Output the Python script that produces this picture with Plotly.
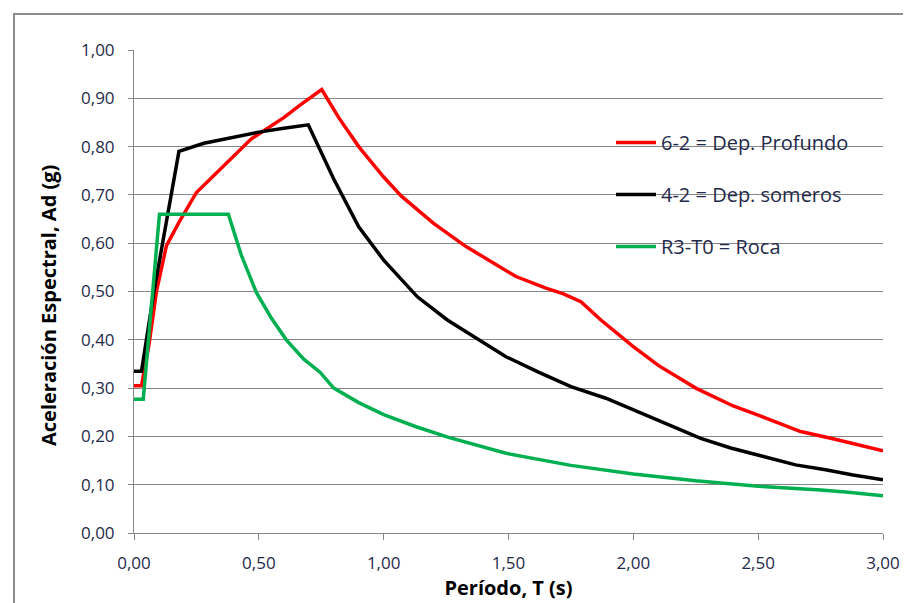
import plotly.graph_objects as go

# ---- data ----
t_prof = [0, 0.03, 0.06, 0.09, 0.13, 0.18, 0.25, 0.35, 0.47, 0.6, 0.665, 0.752,
          0.82, 0.9, 1.0, 1.07, 1.2, 1.33, 1.45, 1.53, 1.65, 1.72, 1.79, 1.87,
          2.0, 2.1, 2.25, 2.4, 2.5, 2.67, 2.8, 3.0]
a_prof = [0.305, 0.305, 0.39, 0.50, 0.595, 0.643, 0.705, 0.755, 0.816, 0.86, 0.886, 0.918,
          0.86, 0.80, 0.737, 0.698, 0.641, 0.593, 0.555, 0.531, 0.507, 0.495, 0.479, 0.441,
          0.386, 0.347, 0.30, 0.263, 0.244, 0.21, 0.195, 0.170]

t_som = [0, 0.03, 0.08, 0.18, 0.28, 0.4, 0.5, 0.6, 0.698, 0.8, 0.9, 1.0, 1.135,
         1.255, 1.38, 1.49, 1.62, 1.75, 1.89, 2.0, 2.13, 2.27, 2.39, 2.5, 2.65,
         2.77, 2.88, 3.0]
a_som = [0.335, 0.335, 0.50, 0.79, 0.807, 0.82, 0.83, 0.838, 0.845, 0.733, 0.634, 0.565, 0.489,
         0.441, 0.40, 0.365, 0.333, 0.303, 0.279, 0.255, 0.226, 0.196, 0.176, 0.161, 0.141,
         0.131, 0.12, 0.110]

t_roca = [0, 0.037, 0.102, 0.2, 0.3, 0.378, 0.43, 0.49, 0.55, 0.61, 0.68, 0.745, 0.8,
          0.9, 1.0, 1.13, 1.26, 1.49, 1.75, 2.0, 2.25, 2.5, 2.75, 2.85, 3.0]
a_roca = [0.277, 0.277, 0.660, 0.660, 0.660, 0.660, 0.575, 0.498, 0.445, 0.40, 0.36, 0.333, 0.30,
          0.27, 0.245, 0.22, 0.198, 0.165, 0.14, 0.122, 0.108, 0.097, 0.089, 0.085, 0.077]

series_names = ["6-2 = Dep. Profundo", "4-2 = Dep. someros", "R3-T0 = Roca"]
series_colors = ["#FF0000", "#000000", "#00B050"]

x_ticks = [0, 0.5, 1.0, 1.5, 2.0, 2.5, 3.0]
y_ticks = [0, 0.1, 0.2, 0.3, 0.4, 0.5, 0.6, 0.7, 0.8, 0.9, 1.0]

FONT = "Open Sans"
TXT = "#1F2A4A"

fig = go.Figure()
for i, (tx, ay) in enumerate([(t_prof, a_prof), (t_som, a_som), (t_roca, a_roca)]):
    fig.add_trace(go.Scatter(
        x=tx, y=ay, mode="lines", name=series_names[i],
        legendgroup=f"g{i}",
        line=dict(color=series_colors[i], width=3.5),
    ))

# page has an 8px body margin; figure pixel = page pixel - 8
OFF = 8
W, H = 911 - OFF, 603 - OFF
L, T = 134 - OFF, 50 - OFF
PW, PH = 749, 483
R = W - L - PW
B = H - T - PH


def px_x(page_x):
    return (page_x - OFF - L) / PW


def px_y(page_y):
    return (H - B - (page_y - OFF)) / PH


fig.update_layout(
    width=W, height=H,
    margin=dict(l=L, r=R, t=T, b=B),
    paper_bgcolor="white", plot_bgcolor="white",
    separators=",.",
    font=dict(family=FONT, color=TXT, size=15),
    showlegend=True,
    legend=dict(
        x=px_x(611), xanchor="left",
        y=px_y(123), yanchor="top",
        bgcolor="rgba(255,255,255,0)", borderwidth=0,
        traceorder="grouped", tracegroupgap=23,
        font=dict(family=FONT, size=20, color=TXT),
        itemwidth=40,
    ),
    xaxis=dict(
        range=[0, 3], tickvals=x_ticks, tickformat=".2f",
        automargin=False,
        showgrid=False, zeroline=False,
        showline=True, linecolor="#868686", linewidth=1,
        ticks="outside", ticklen=6, tickcolor="#868686",
        tickfont=dict(family=FONT, size=17, color=TXT),
        ticklabelstandoff=9,
        title=dict(text="<b>Período, T (s)</b>", font=dict(family=FONT, size=20, color="#000000"),
                   standoff=6),
    ),
    yaxis=dict(
        range=[0, 1], tickvals=y_ticks, tickformat=".2f",
        automargin=False,
        showgrid=True, gridcolor="#868686", gridwidth=1,
        zeroline=False,
        showline=True, linecolor="#868686", linewidth=1,
        ticks="outside", ticklen=5, tickcolor="#868686",
        tickfont=dict(family=FONT, size=17, color=TXT),
        ticklabelstandoff=10,
    ),
    annotations=[dict(
        text="<b>Aceleración Espectral, Ad (g)</b>", textangle=-90,
        xref="paper", yref="paper", x=px_x(48), y=px_y(306),
        xanchor="center", yanchor="middle", showarrow=False,
        font=dict(family=FONT, size=20, color="#000000"),
    )],
    shapes=[
        dict(
            type="rect", xref="paper", yref="paper",
            x0=px_x(14), x1=px_x(940), y0=px_y(640), y1=px_y(14),
            line=dict(color="#8C8C8C", width=2), fillcolor="rgba(0,0,0,0)",
            layer="below",
        ),
        dict(
            type="rect", xref="paper", yref="paper",
            x0=px_x(561), x1=px_x(885), y0=px_y(285), y1=px_y(106),
            line=dict(width=0), fillcolor="white",
            layer="between",
        ),
    ],
)

fig.write_html("out.html")
